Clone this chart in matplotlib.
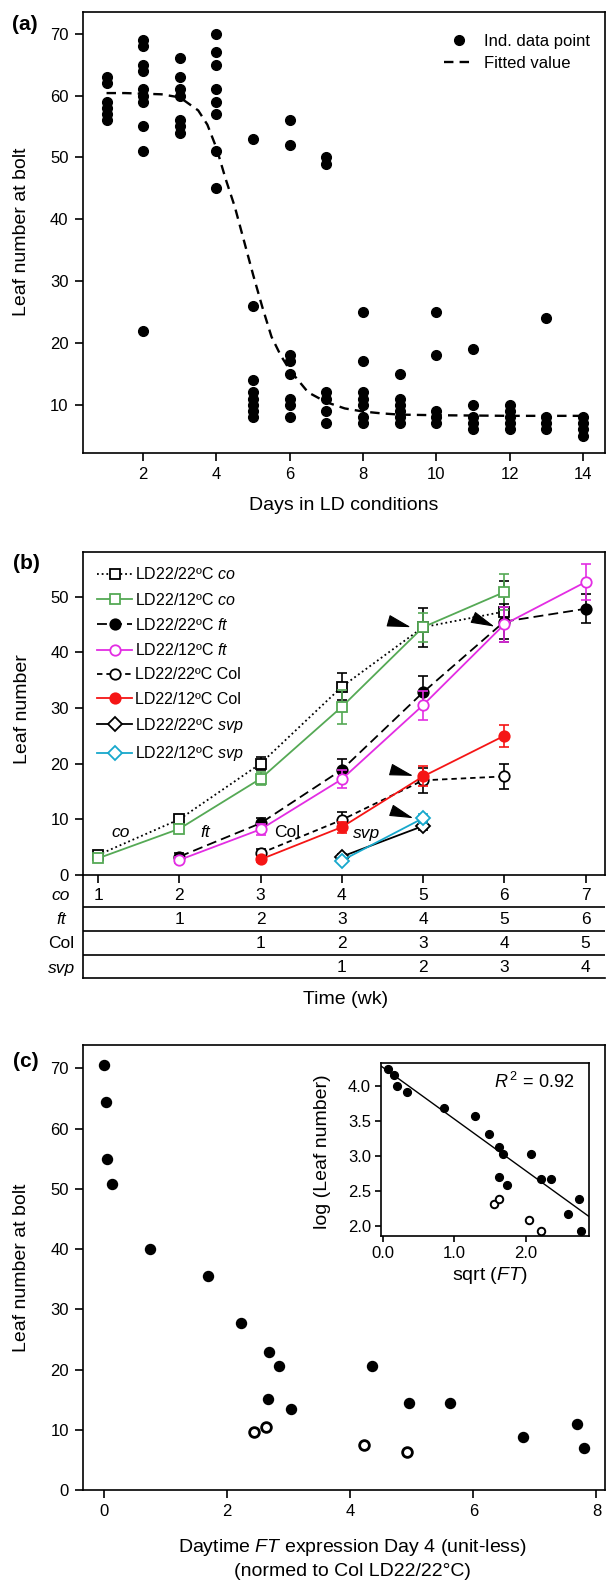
import matplotlib
matplotlib.use('Agg')
import matplotlib.pyplot as plt
import matplotlib.transforms as mtransforms

plt.rcParams['font.family'] = ['Liberation Sans', 'DejaVu Sans']
plt.rcParams['mathtext.fontset'] = 'custom'
plt.rcParams['mathtext.rm'] = 'Liberation Sans'
plt.rcParams['mathtext.it'] = 'Liberation Sans:italic'
plt.rcParams['mathtext.bf'] = 'Liberation Sans:bold'
plt.rcParams['axes.linewidth'] = 1.2
plt.rcParams['xtick.major.width'] = 1.2
plt.rcParams['ytick.major.width'] = 1.2
plt.rcParams['xtick.major.size'] = 5.5
plt.rcParams['ytick.major.size'] = 5.5
plt.rcParams['xtick.major.pad'] = 4.5
plt.rcParams['ytick.major.pad'] = 4.5

# ---------- panel (a) data ----------
days = [1, 2, 3, 4, 5, 6, 7, 8, 9, 10, 11, 12, 13, 14]
leaf_by_day = [
    [56, 57, 58, 59, 62, 63],
    [69, 68, 65, 64, 61, 60, 59, 55, 51, 22],
    [66, 63, 61, 60, 56, 55, 54],
    [70, 67, 65, 61, 59, 57, 51, 45],
    [53, 26, 14, 12, 11, 10, 9, 8],
    [56, 52, 18, 17, 15, 11, 10, 8],
    [50, 49, 12, 11, 9, 7],
    [25, 17, 12, 11, 10, 8, 7],
    [15, 11, 10, 9, 8, 7],
    [25, 18, 9, 8, 7],
    [19, 10, 8, 7, 6],
    [10, 9, 8, 7, 6],
    [24, 8, 7, 6],
    [8, 7, 6, 5],
]
fit_days = [1, 1.5, 2, 2.5, 3, 3.5, 3.75, 4, 4.25, 4.5, 4.75, 5, 5.25, 5.5,
            5.75, 6, 6.5, 7, 7.5, 8, 8.5, 9, 10, 11, 12, 13, 14]
fit_leaf = [60.4, 60.4, 60.3, 60.2, 59.7, 57.6, 55.3, 51.5, 46.5, 42.0, 36.5,
            31.0, 25.8, 21.0, 18.0, 15.6, 12.0, 10.4, 9.4, 8.9, 8.6, 8.4,
            8.3, 8.25, 8.2, 8.2, 8.2]

# ---------- panel (b) data ----------
wk_co = [1, 2, 3, 4, 5, 6]
co22 = [3.6, 10.0, 20.0, 33.8, 44.5, 47.3]
co22_err = [0.5, 0.6, 1.2, 2.4, 3.5, 5.5]
co12 = [3.0, 8.3, 17.3, 30.2, 44.5, 50.8]
co12_err = [0.4, 0.8, 1.2, 3.0, 2.6, 3.2]
wk_ft = [2, 3, 4, 5, 6, 7]
ft22 = [3.3, 9.3, 18.9, 32.8, 45.5, 47.8]
ft22_err = [0.6, 1.0, 2.0, 2.9, 3.2, 2.6]
ft12 = [2.7, 8.2, 17.2, 30.5, 45.0, 52.6]
ft12_err = [0.5, 1.0, 1.6, 2.6, 3.1, 3.2]
wk_col = [3, 4, 5, 6]
col22 = [3.9, 9.9, 17.0, 17.7]
col22_err = [0.8, 1.5, 2.2, 2.3]
col12 = [2.8, 8.6, 17.7, 25.0]
col12_err = [0.5, 1.0, 1.8, 2.0]
wk_svp = [4, 5]
svp22 = [3.3, 8.8]
svp22_err = [0.5, 0.8]
svp12 = [2.6, 10.2]
svp12_err = [0.4, 0.8]

# arrowheads: (tip week, tip value, back week, back value)
arrows_b = [(4.85, 44.5, 4.61, 45.5), (5.88, 44.6, 5.61, 46.3),
            (4.88, 17.8, 4.61, 18.9), (4.88, 10.2, 4.61, 11.6)]
# genotype labels on the curves: (week, value, text, italic)
curve_labels = [(1.28, 7.6, 'co', True), (2.32, 7.6, 'ft', True),
                (3.33, 7.6, 'Col', False), (4.3, 7.5, 'svp', True)]

table_rows = ['co', 'ft', 'Col', 'svp']
table_italic = [True, True, False, True]
table_start = [1, 2, 3, 4]
weeks_all = [1, 2, 3, 4, 5, 6, 7]

# ---------- panel (c) data ----------
ft_expr_filled = [0.0, 0.03, 0.04, 0.12, 0.74, 1.68, 2.22, 2.68, 2.84, 2.67,
                  3.04, 4.36, 4.96, 5.62, 6.80, 7.69, 7.80]
leaf_filled = [70.5, 64.5, 55.0, 50.8, 40.0, 35.6, 27.8, 22.9, 20.6, 15.1,
               13.4, 20.6, 14.5, 14.5, 8.85, 10.9, 6.9]
ft_expr_open = [2.44, 2.63, 4.23, 4.92]
leaf_open = [9.7, 10.5, 7.5, 6.3]

sqrt_ft_filled = [0.08, 0.16, 0.20, 0.34, 0.86, 1.29, 1.48, 1.63, 1.68, 2.07,
                  1.63, 1.74, 2.22, 2.36, 2.75, 2.59, 2.77]
log_leaf_filled = [4.25, 4.16, 4.00, 3.92, 3.68, 3.57, 3.32, 3.13, 3.03, 3.03,
                   2.70, 2.59, 2.67, 2.67, 2.39, 2.17, 1.93]
sqrt_ft_open = [1.56, 1.62, 2.05, 2.21]
log_leaf_open = [2.31, 2.38, 2.09, 1.93]
fit_intercept = 4.27
fit_slope = -0.74

W, H = 606, 1581
fig = plt.figure(figsize=(W / 100, H / 100), dpi=100)


def box(x0, y0, x1, y1):
    # pixel box (top-left origin) -> figure fraction rect
    return [x0 / W, 1 - y1 / H, (x1 - x0) / W, (y1 - y0) / H]


# ================= (a) =================
axa = fig.add_axes(box(82.5, 11.7, 605, 452.7))
xs, ys = [], []
for d, vals in zip(days, leaf_by_day):
    xs += [d] * len(vals)
    ys += vals
axa.plot(xs, ys, 'o', color='k', ms=7, ls='none', label='Ind. data point')
axa.plot(fit_days, fit_leaf, color='k', lw=1.7, dashes=(4, 2.6),
         label='Fitted value')
axa.set_xlim(0.344, 14.6)
axa.set_ylim(2.24, 73.56)
axa.set_xticks(range(2, 15, 2))
axa.set_yticks(range(10, 71, 10))
axa.tick_params(labelsize=12)
axa.legend(loc='upper left', bbox_to_anchor=(0.692, 0.950), frameon=False,
           fontsize=12, borderpad=0, borderaxespad=0, handlelength=1.8,
           handletextpad=0.6, labelspacing=0.42, numpoints=1)
fig.text(21 / W, 1 - 232 / H, 'Leaf number at bolt', rotation=90,
         ha='center', va='center', fontsize=14)
fig.text(344 / W, 1 - 510.5 / H, 'Days in LD conditions', ha='center',
         va='baseline', fontsize=14)
fig.text(12 / W, 1 - 24.5 / H, '(a)', ha='left', va='center', fontsize=15,
         fontweight='bold')

# ================= (b) =================
axb = fig.add_axes(box(82.7, 552, 605, 875))
green = '#55a955'
magenta = '#e32de3'
red = '#f51515'
cyan = '#17a8cc'
b_series = [
    ('LD22/22ºC $\\mathit{co}$', wk_co, co22, co22_err, 'k', 'white', 's', (1, 1.6)),
    ('LD22/12ºC $\\mathit{co}$', wk_co, co12, co12_err, green, 'white', 's', None),
    ('LD22/22ºC $\\mathit{ft}$', wk_ft, ft22, ft22_err, 'k', 'k', 'o', (5.5, 2.8)),
    ('LD22/12ºC $\\mathit{ft}$', wk_ft, ft12, ft12_err, magenta, 'white', 'o', None),
    ('LD22/22ºC Col', wk_col, col22, col22_err, 'k', 'white', 'o', (3, 2.2)),
    ('LD22/12ºC Col', wk_col, col12, col12_err, red, red, 'o', None),
    ('LD22/22ºC $\\mathit{svp}$', wk_svp, svp22, svp22_err, 'k', 'white', 'D', None),
    ('LD22/12ºC $\\mathit{svp}$', wk_svp, svp12, svp12_err, cyan, 'white', 'D', None),
]
for lab, wk, v, e, c, mfc, mk, dash in b_series:
    axb.errorbar(wk, v, yerr=e, fmt='none', ecolor=c, elinewidth=1.2,
                 capsize=3.8, capthick=1.2)
    ms = 7.5 if mk == 'o' else (6.8 if mk == 's' else 7.0)
    kw = dict(color=c, marker=mk, mfc=mfc, mec=c, ms=ms, mew=1.3, lw=1.3,
              label=lab)
    if dash is not None:
        kw['dashes'] = dash
    axb.plot(wk, v, **kw)
for tx, ty, bx, by in arrows_b:
    axb.annotate('', xy=(tx, ty), xytext=(bx, by),
                 arrowprops=dict(arrowstyle='-|>,head_length=1.5,head_width=0.38',
                                 color='k', shrinkA=0, shrinkB=0, lw=0.8))
for wx, wy, t, it in curve_labels:
    axb.text(wx, wy, t, ha='center', va='center', fontsize=12.5,
             fontstyle='italic' if it else 'normal')
axb.set_xlim(0.81, 7.24)
axb.set_ylim(0, 58.0)
axb.set_xticks(weeks_all)
axb.set_xticklabels([])
axb.set_yticks(range(0, 51, 10))
axb.tick_params(labelsize=12)
axb.legend(loc='upper left', bbox_to_anchor=(0.0274, 0.9555), frameon=False,
           fontsize=11.5, borderpad=0, borderaxespad=0, handlelength=2.2,
           handletextpad=0.2, labelspacing=0.58, numpoints=1)
fig.text(23 / W, 1 - 709 / H, 'Leaf number', rotation=90, ha='center',
         va='center', fontsize=14)
fig.text(346 / W, 1 - 1004 / H, 'Time (wk)', ha='center', va='baseline',
         fontsize=14)
fig.text(13 / W, 1 - 564 / H, '(b)', ha='left', va='center', fontsize=15,
         fontweight='bold')

# table under (b)
tab = fig.add_axes(box(82.7, 875, 605, 978.3), facecolor='none')
tab.set_xlim(axb.get_xlim())
tab.set_ylim(103.3, 0)
tab.set_xticks([])
tab.set_yticks([])
tab.spines['top'].set_visible(False)
tab.spines['right'].set_visible(False)
row_lines = [31.7, 56, 80]
row_mid = [20, 45, 69, 93]
for yl in row_lines:
    tab.axhline(yl, color='k', lw=1.2)
trans = mtransforms.blended_transform_factory(tab.transAxes, tab.transData)
for name, it, st, ym in zip(table_rows, table_italic, table_start, row_mid):
    tab.text(-0.0415, ym, name, transform=trans, ha='center', va='center',
             fontsize=12.5, fontstyle='italic' if it else 'normal')
    for wk in weeks_all:
        if wk >= st:
            tab.text(wk, ym, str(wk - st + 1), ha='center', va='center',
                     fontsize=12.5)

# ================= (c) =================
axc = fig.add_axes(box(82.7, 1045, 605, 1490))
axc.plot(ft_expr_filled, leaf_filled, 'o', color='k', ms=7.2, ls='none')
axc.plot(ft_expr_open, leaf_open, 'o', mfc='white', mec='k', mew=2.0, ms=7.0,
         ls='none')
axc.set_xlim(-0.35, 8.14)
axc.set_ylim(0, 73.9)
axc.set_xticks(range(0, 9, 2))
axc.set_yticks(range(0, 71, 10))
axc.tick_params(labelsize=12)
fig.text(21 / W, 1 - 1268 / H, 'Leaf number at bolt', rotation=90,
         ha='center', va='center', fontsize=14)
fig.text(352 / W, 1 - 1552.3 / H,
         'Daytime $\\mathit{FT}$ expression Day 4 (unit-less)',
         ha='center', va='baseline', fontsize=14)
fig.text(352 / W, 1 - 1575.5 / H, '(normed to Col LD22/22°C)',
         ha='center', va='baseline', fontsize=14)
fig.text(12.5 / W, 1 - 1061.7 / H, '(c)', ha='left', va='center',
         fontsize=15, fontweight='bold')

# inset
axi = fig.add_axes(box(380.7, 1062.7, 589.4, 1236))
axi.plot(sqrt_ft_filled, log_leaf_filled, 'o', color='k', ms=5.6, ls='none')
axi.plot(sqrt_ft_open, log_leaf_open, 'o', mfc='white', mec='k', mew=1.4,
         ms=5.4, ls='none')
xl = (-0.027, 2.89)
axi.plot(xl, [fit_intercept + fit_slope * v for v in xl], color='k', lw=1.0)
axi.set_xlim(xl)
axi.set_ylim(1.857, 4.334)
axi.set_xticks([0, 1, 2])
axi.set_xticklabels(['0.0', '1.0', '2.0'])
axi.set_yticks([2.0, 2.5, 3.0, 3.5, 4.0])
axi.set_yticklabels(['2.0', '2.5', '3.0', '3.5', '4.0'])
axi.tick_params(length=4, pad=3, labelsize=12)
axi.text(574 / W, 1 - 1088.3 / H, '$R^{\\,2}$ = 0.92', transform=fig.transFigure,
         ha='right', va='baseline', fontsize=13)
fig.text(322.7 / W, 1 - 1152 / H, 'log (Leaf number)', rotation=90,
         ha='center', va='center', fontsize=14)
fig.text(489.7 / W, 1 - 1280 / H, 'sqrt ($\\mathit{FT}$)', ha='center',
         va='baseline', fontsize=14)

fig.savefig('out.png', dpi=100)
